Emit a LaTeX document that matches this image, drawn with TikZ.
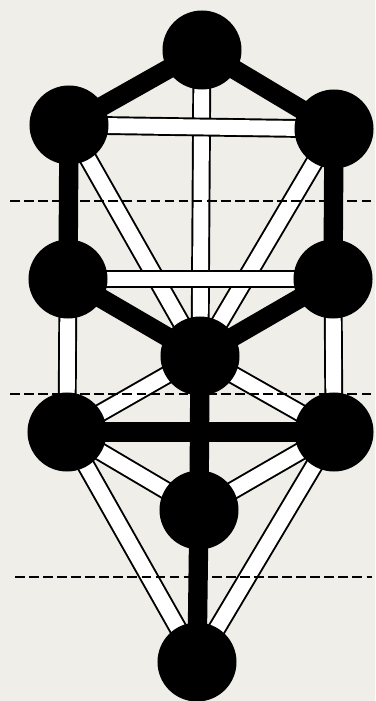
\documentclass[tikz,border=0pt]{standalone}
\usetikzlibrary{backgrounds}
\definecolor{paper}{RGB}{239,238,232}
\pgfdeclarelayer{paths}
\pgfsetlayers{background,paths,main}
\begin{document}
\begin{tikzpicture}[
  x=0.04cm,
  y=-0.04cm,
  sephira/.style={
    circle,
    fill=black,
    minimum size=3.16cm,
    inner sep=0pt
  },
  darkpath/.style={line width=22pt, black},
  lightpath/.style={
    draw=black,
    line width=2.2pt,
    double=white,
    double distance=17pt
  },
  veil/.style={line width=3.3pt, dash pattern=on 11pt off 5pt}
]

\useasboundingbox (0,0) rectangle (375,701);
\begin{pgfonlayer}{background}
  \fill[paper] (0,0) rectangle (375,701);
\end{pgfonlayer}

\node[sephira] (kether) at (202,50) {};
\node[sephira] (binah) at (69,125) {};
\node[sephira] (chokmah) at (334,129) {};
\node[sephira] (geburah) at (68,279) {};
\node[sephira] (chesed) at (333,279) {};
\node[sephira] (tiphareth) at (200,356) {};
\node[sephira] (hod) at (67,432) {};
\node[sephira] (netzach) at (334,432) {};
\node[sephira] (yesod) at (199,510) {};
\node[sephira] (malkuth) at (197,662) {};

\begin{pgfonlayer}{paths}
  \draw[darkpath] (kether.center) -- (binah.center);
  \draw[darkpath] (kether.center) -- (chokmah.center);
  \draw[darkpath] (binah.center) -- (geburah.center);
  \draw[darkpath] (chokmah.center) -- (chesed.center);
  \draw[darkpath] (geburah.center) -- (tiphareth.center);
  \draw[darkpath] (chesed.center) -- (tiphareth.center);
  \draw[darkpath] (tiphareth.center) -- (yesod.center);
  \draw[darkpath] (yesod.center) -- (malkuth.center);

  \draw[lightpath] (kether.center) -- (tiphareth.center);
  \draw[lightpath] (binah.center) -- (chokmah.center);
  \draw[lightpath] (binah.center) -- (tiphareth.center);
  \draw[lightpath] (chokmah.center) -- (tiphareth.center);
  \draw[lightpath] (geburah.center) -- (chesed.center);
  \draw[lightpath] (geburah.center) -- (hod.center);
  \draw[lightpath] (chesed.center) -- (netzach.center);
  \draw[lightpath] (tiphareth.center) -- (hod.center);
  \draw[lightpath] (tiphareth.center) -- (netzach.center);
  \draw[lightpath] (hod.center) -- (yesod.center);
  \draw[lightpath] (netzach.center) -- (yesod.center);
  \draw[lightpath] (hod.center) -- (malkuth.center);
  \draw[lightpath] (netzach.center) -- (malkuth.center);

  \draw[darkpath] (hod.center) -- (netzach.center);

  \draw[veil] (10,201) -- (372,201);
  \draw[veil] (10,394) -- (372,394);
  \draw[veil] (15,577) -- (372,577);
\end{pgfonlayer}

\end{tikzpicture}
\end{document}
